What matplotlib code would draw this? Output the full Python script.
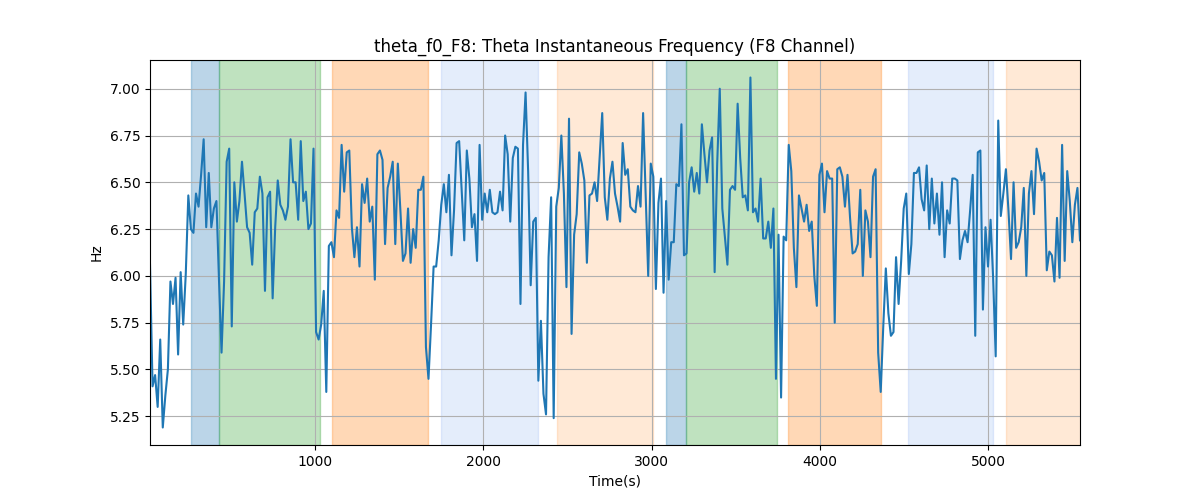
import numpy as np
import matplotlib
matplotlib.use("Agg")
import matplotlib.pyplot as plt

# time range of the series (s)
t_start = 18
t_end = 5547

# theta instantaneous frequency, F8 channel (Hz)
freq = [
    6.06, 5.41, 5.47, 5.30, 5.66, 5.19, 5.36, 5.50, 5.97, 5.85, 5.99, 5.58, 6.02, 5.74, 6.01,
    6.43, 6.25, 6.23, 6.44, 6.37, 6.54, 6.73, 6.26, 6.55, 6.26, 6.36, 6.40, 5.98, 5.59, 5.97,
    6.61, 6.68, 5.73, 6.50, 6.29, 6.40, 6.61, 6.44, 6.26, 6.23, 6.06, 6.34, 6.36, 6.53, 6.44,
    5.92, 6.42, 6.45, 5.88, 6.26, 6.51, 6.38, 6.35, 6.30, 6.37, 6.73, 6.50, 6.50, 6.30, 6.72,
    6.40, 6.45, 6.25, 6.28, 6.68, 5.70, 5.66, 5.74, 5.92, 5.38, 6.16, 6.18, 6.10, 6.35, 6.31,
    6.70, 6.45, 6.66, 6.67, 6.26, 6.10, 6.26, 6.05, 6.49, 6.39, 6.52, 6.29, 6.37, 5.98, 6.65,
    6.67, 6.62, 6.17, 6.47, 6.53, 6.61, 6.17, 6.60, 6.35, 6.08, 6.12, 6.36, 6.07, 6.25, 6.15,
    6.46, 6.46, 6.53, 5.62, 5.45, 5.74, 6.05, 6.05, 6.19, 6.38, 6.49, 6.34, 6.54, 6.11, 6.35,
    6.71, 6.72, 6.45, 6.19, 6.67, 6.52, 6.26, 6.33, 6.08, 6.70, 6.30, 6.44, 6.34, 6.46, 6.34,
    6.33, 6.34, 6.45, 6.35, 6.75, 6.65, 6.29, 6.63, 6.69, 6.68, 5.85, 6.70, 6.98, 6.56, 5.95,
    6.29, 6.31, 5.44, 5.76, 5.37, 5.26, 6.10, 6.42, 5.24, 6.37, 6.47, 6.75, 6.44, 5.94, 6.84,
    5.69, 6.22, 6.33, 6.66, 6.60, 6.51, 6.07, 6.43, 6.44, 6.50, 6.40, 6.63, 6.87, 6.42, 6.30,
    6.52, 6.61, 6.44, 6.37, 6.29, 6.71, 6.54, 6.57, 6.37, 6.35, 6.34, 6.48, 6.37, 6.87, 6.44,
    6.00, 6.60, 6.53, 5.93, 6.39, 6.52, 5.91, 6.40, 5.98, 6.18, 6.18, 6.49, 6.48, 6.81, 6.11,
    6.12, 6.50, 6.58, 6.45, 6.55, 6.44, 6.81, 6.65, 6.50, 6.67, 6.74, 6.02, 6.60, 7.00, 6.36,
    6.21, 6.06, 6.46, 6.48, 6.46, 6.92, 6.63, 6.42, 6.43, 6.35, 7.06, 6.34, 6.36, 6.29, 6.52,
    6.20, 6.20, 6.29, 6.15, 6.36, 5.45, 6.22, 5.35, 6.21, 6.19, 6.70, 6.56, 6.15, 5.94, 6.43,
    6.36, 6.29, 6.38, 6.24, 6.29, 6.00, 5.84, 6.54, 6.60, 6.34, 6.56, 6.52, 6.52, 5.75, 6.57,
    6.58, 6.53, 6.37, 6.54, 6.31, 6.12, 6.13, 6.17, 6.46, 6.00, 6.35, 6.29, 6.10, 6.53, 6.57,
    5.59, 5.38, 5.73, 6.04, 5.80, 5.68, 5.70, 6.10, 5.85, 6.08, 6.36, 6.44, 6.01, 6.17, 6.55,
    6.55, 6.58, 6.41, 6.35, 6.59, 6.25, 6.52, 6.28, 6.44, 6.22, 6.50, 6.10, 6.35, 6.28, 6.52,
    6.52, 6.51, 6.09, 6.19, 6.24, 6.18, 6.35, 6.54, 5.68, 6.66, 6.67, 5.82, 6.26, 6.05, 6.30,
    5.99, 5.57, 6.83, 6.32, 6.44, 6.57, 6.35, 6.09, 6.50, 6.15, 6.18, 6.26, 6.47, 6.00, 6.44,
    6.56, 6.33, 6.68, 6.61, 6.51, 6.55, 6.03, 6.13, 6.11, 5.97, 6.31, 5.99, 6.70, 6.08, 6.56,
    6.40, 6.18, 6.38, 6.47, 6.19,
]

# shaded segments (s)
span_starts = [262, 429, 1101, 1750, 2435, 3083, 3202, 3810, 4524, 5107]
span_ends = [429, 1030, 1673, 2327, 3006, 3202, 3744, 4363, 5030, 5600]
span_colors = ["C0", "C2", "C1", "cornflowerblue", "C1",
               "C0", "C2", "C1", "cornflowerblue", "C1"]
span_alphas = [0.3, 0.3, 0.3, 0.17, 0.17, 0.3, 0.3, 0.3, 0.17, 0.17]

t = np.linspace(t_start, t_end, len(freq))

fig, ax = plt.subplots(figsize=(12, 5), dpi=100)

for s, e, c, a in zip(span_starts, span_ends, span_colors, span_alphas):
    ax.axvspan(s, e, color=c, alpha=a)

ax.plot(t, freq, color="C0", linewidth=1.5)
ax.set_xlim(t_start, t_end)
ax.set_title("theta_f0_F8: Theta Instantaneous Frequency (F8 Channel)")
ax.set_xlabel("Time(s)")
ax.set_ylabel("Hz")
ax.grid(True)

plt.savefig("out.png")
